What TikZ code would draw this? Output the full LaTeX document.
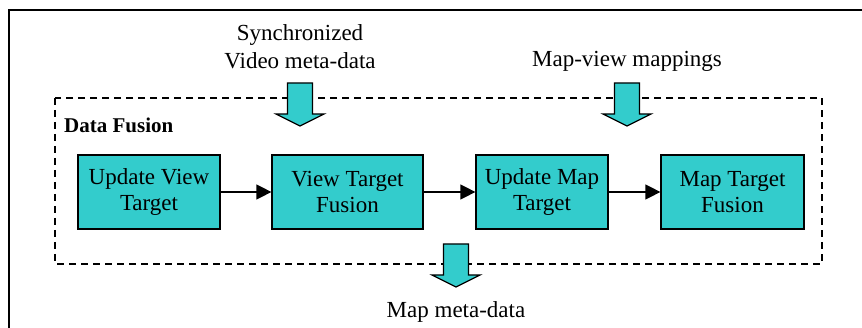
\documentclass[tikz,border=0pt]{standalone}
\usepackage{fontspec}
\setmainfont{Liberation Serif}
\newfontfamily\tms{Liberation Serif}
\usetikzlibrary{arrows.meta}
\definecolor{boxcyan}{HTML}{33CCCC}
\begin{document}
\begin{tikzpicture}[x=1pt,y=-1pt,
  procbox/.style={draw=black,line width=1.2pt,fill=boxcyan,minimum height=74pt,inner sep=0pt,align=center,font=\tms\fontsize{23}{26}\selectfont},
  lbl/.style={align=center,font=\tms\fontsize{23}{28}\selectfont,inner sep=0pt},
  conn/.style={line width=1.2pt,-{Triangle[length=15pt,width=15pt]}},
  blockarrow/.style={draw=black,line width=1.2pt,fill=boxcyan,line join=miter}]
\clip (0,0) rectangle (862,328);
\useasboundingbox (0,0) rectangle (862,328);
% outer frame
\draw[line width=1.6pt] (9,340) -- (9,10) -- (880,10);
% dashed data fusion region
\draw[line width=1.2pt,dash pattern=on 7pt off 5pt] (55,98) rectangle (822,264);
\node[anchor=base west,inner sep=0pt,font=\tms\fontsize{21}{24}\selectfont\bfseries] (df) at (64,133) {Data Fusion};
% process boxes
\node[procbox,minimum width=142pt] (b1) at (149,192) {Update View\\Target};
\node[procbox,minimum width=151pt] (b2) at (347.5,192) {View Target\\Fusion};
\node[procbox,minimum width=132pt] (b3) at (542,192) {Update Map\\Target};
\node[procbox,minimum width=143pt] (b4) at (732.5,192) {Map Target\\Fusion};
\draw[conn] (b1) -- (b2);
\draw[conn] (b2) -- (b3);
\draw[conn] (b3) -- (b4);
% labels
\node[lbl] (sync) at (300,47) {Synchronized\\Video meta-data};
\node[lbl] (mv) at (627,61) {Map-view mappings};
\node[lbl] (mm) at (456,312) {Map meta-data};
% block arrows
\coordinate (a1) at (300,83);
\coordinate (a2) at (627,83);
\coordinate (a3) at (456,244);
\foreach \c in {a1,a2,a3}{
  \draw[blockarrow] (\c) ++(-12.5,0) -- ++(25,0) -- ++(0,31) -- ++(11.5,0) -- ++(-24,12) -- ++(-24,-12) -- ++(11.5,0) -- cycle;
}
\end{tikzpicture}
\end{document}
